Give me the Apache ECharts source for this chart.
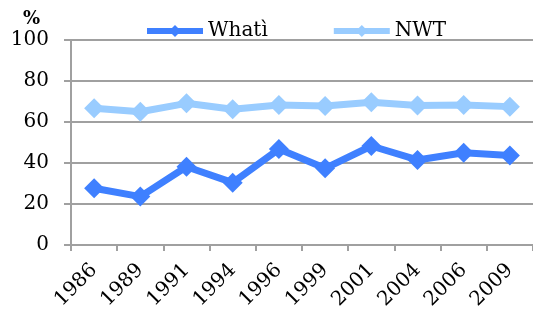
<!DOCTYPE html>
<html><head><meta charset="utf-8">
<script src="https://cdn.jsdelivr.net/npm/echarts@6/dist/echarts.min.js"></script>
<style>html,body{margin:0;padding:0;background:#fff}#c{width:533px;height:316px}</style>
</head><body><div id="c"></div>
<script>
const years = ['1986','1989','1991','1994','1996','1999','2001','2004','2006','2009'];
const whati = [27.7, 23.6, 38.2, 30.4, 46.8, 37.4, 48.3, 41.5, 45.0, 43.7];
const nwt = [66.7, 65.0, 69.1, 66.2, 68.3, 67.8, 69.6, 68.0, 68.3, 67.5];
const yTicks = [0, 20, 40, 60, 80, 100];

const font = 'DejaVu Serif';
const chart = echarts.init(document.getElementById('c'));
chart.setOption({
  animation: false,
  textStyle: {fontFamily: font},
  graphic: [{type: 'text', left: 23, top: 10, style: {text: '%', font: 'bold 18px "DejaVu Serif"', fill: '#000'}}],
  legend: {
    top: 21, left: 144, padding: 0, itemGap: 63, itemWidth: 56, itemHeight: 15,
    lineStyle: {width: 6},
    textStyle: {fontFamily: font, fontSize: 20, color: '#000'},
    data: ['Whatì', 'NWT']
  },
  grid: {left: 71, right: 0, top: 40, bottom: 71, containLabel: false},
  xAxis: {
    type: 'category', data: years, boundaryGap: true,
    axisLine: {lineStyle: {color: '#A0A0A0', width: 2}},
    axisTick: {show: true, length: 6, lineStyle: {color: '#A0A0A0', width: 2}},
    axisLabel: {rotate: 45, fontFamily: font, fontSize: 20, color: '#000', margin: 22}
  },
  yAxis: {
    type: 'value', min: 0, max: 100, interval: 20,
    axisLine: {show: true, lineStyle: {color: '#A0A0A0', width: 2}},
    axisTick: {show: true, length: 7, lineStyle: {color: '#A0A0A0', width: 2}},
    splitLine: {lineStyle: {color: '#A0A0A0', width: 2}},
    axisLabel: {fontFamily: font, fontSize: 20, color: '#000', margin: 22,
      formatter: v => yTicks.includes(v) ? String(v) : ''}
  },
  series: [
    {name: 'Whatì', type: 'line', data: whati, symbol: 'diamond', symbolSize: 20,
     lineStyle: {color: '#3F80FF', width: 7}, itemStyle: {color: '#3F80FF'}},
    {name: 'NWT', type: 'line', data: nwt, symbol: 'diamond', symbolSize: 20,
     lineStyle: {color: '#99CCFF', width: 7}, itemStyle: {color: '#99CCFF'}}
  ]
});
</script></body></html>
